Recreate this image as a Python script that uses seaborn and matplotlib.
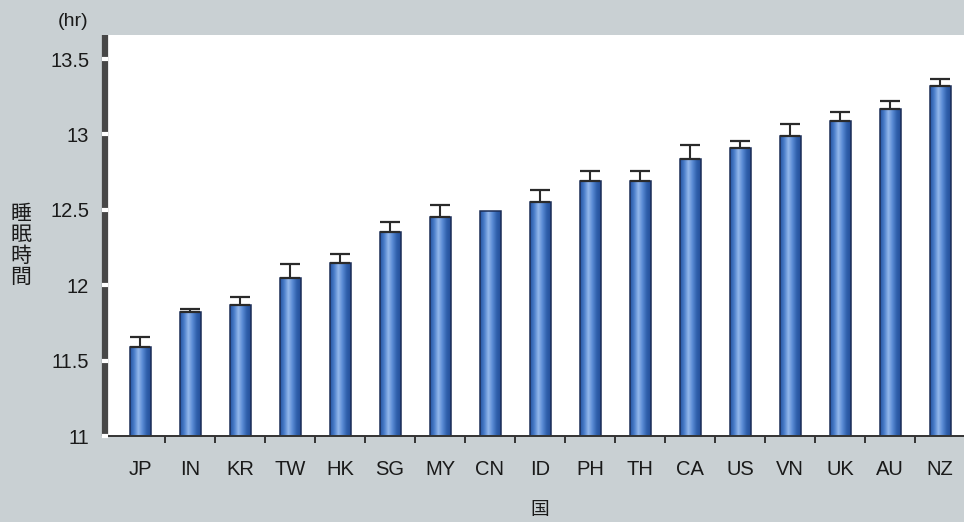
import numpy as np
import pandas as pd
import matplotlib
matplotlib.use("Agg")
import matplotlib.pyplot as plt
from matplotlib.colors import LinearSegmentedColormap
import seaborn as sns

# Data (hours of sleep by country)
countries = ["JP", "IN", "KR", "TW", "HK", "SG", "MY", "CN", "ID",
             "PH", "TH", "CA", "US", "VN", "UK", "AU", "NZ"]
sleep_hr = [11.59, 11.82, 11.87, 12.05, 12.15, 12.35, 12.45, 12.49, 12.55,
            12.69, 12.69, 12.84, 12.91, 12.99, 13.09, 13.17, 13.32]
err_hr = [0.07, 0.02, 0.05, 0.09, 0.06, 0.07, 0.08, 0.0, 0.08,
          0.07, 0.07, 0.09, 0.05, 0.08, 0.06, 0.05, 0.05]
y_ticks = [11, 11.5, 12, 12.5, 13, 13.5]
y_tick_labels = ["11", "11.5", "12", "12.5", "13", "13.5"]

df = pd.DataFrame({"country": countries, "sleep": sleep_hr, "err": err_hr})

sns.set_style("white")
plt.rcParams["font.family"] = ["Liberation Sans", "Noto Sans CJK JP", "DejaVu Sans"]

bg = "#c9d0d3"
y_lo, y_hi = 11, 13.66
fig = plt.figure(figsize=(9.64, 5.22), dpi=100, facecolor=bg)
ax = fig.add_axes([105 / 964, 1 - 436 / 522, (964 - 105) / 964, (436 - 35) / 522])
ax.set_facecolor("white")

sns.barplot(data=df, x="country", y="sleep", order=countries, width=0.42,
            color="#3a6cc0", edgecolor="#1b2c55", linewidth=1.1, ax=ax,
            errorbar=None, zorder=2)

# cylinder-like shading inside each bar
cmap = LinearSegmentedColormap.from_list(
    "bar", ["#2552a0", "#4a7dca", "#93b7ec", "#5a8bd4", "#3060ac", "#244f98"])
grad = np.linspace(0, 1, 256).reshape(1, -1)
for p in list(ax.patches):
    x0, w, top = p.get_x(), p.get_width(), p.get_y() + p.get_height()
    p.set_facecolor("none")
    im = ax.imshow(grad, cmap=cmap, aspect="auto", zorder=1.5,
                   extent=[x0, x0 + w, y_lo, top])
    im.set_clip_path(p)

# upward-only error bars
pos = np.arange(len(countries))
has_err = df["err"].values > 0
ax.errorbar(pos[has_err], df["sleep"].values[has_err],
            yerr=[np.zeros(has_err.sum()), df["err"].values[has_err]],
            fmt="none", ecolor="#2a2a2a", elinewidth=1.5, capsize=7.5,
            capthick=1.6, zorder=3)

ax.set_xlim(-0.70, 16.48)
ax.set_ylim(y_lo, y_hi)

# spines
for s in ["top", "right"]:
    ax.spines[s].set_visible(False)
ax.spines["left"].set_color("#474747")
ax.spines["left"].set_linewidth(4.5)
ax.spines["left"].set_capstyle("butt")
ax.spines["bottom"].set_color("#333333")
ax.spines["bottom"].set_linewidth(1.4)

# y ticks: white gaps cutting the thick spine
ax.set_yticks(y_ticks)
ax.set_yticklabels(y_tick_labels)
ax.tick_params(axis="y", left=True, direction="inout", length=4.8, width=3,
               colors="white", labelcolor="#1a1a1a", labelsize=14.5, pad=9)
ax.yaxis.set_zorder(3)

# x ticks between categories
ax.set_xticks(pos)
ax.set_xticklabels(countries)
ax.set_xticks(pos[:-1] + 0.5, minor=True)
ax.tick_params(axis="x", which="major", bottom=False, length=0, labelsize=14.5,
               labelcolor="#1a1a1a", pad=17)
ax.tick_params(axis="x", which="minor", bottom=True, direction="out", length=5,
               width=1.4, color="#333333")
ax.set_xlabel("")
ax.set_ylabel("")

fig.text(88 / 964, 1 - 22 / 522, "(hr)", ha="right", va="center",
         fontsize=14, color="#1a1a1a")
fig.text(21 / 964, 1 - 246 / 522, "睡\n眠\n時\n間", ha="center", va="center",
         fontsize=15, linespacing=1.12, color="#1a1a1a")
fig.text(540 / 964, 1 - 511 / 522, "国", ha="center", va="center",
         fontsize=13.5, color="#1a1a1a")

fig.savefig("out.png", dpi=100, facecolor=bg)
